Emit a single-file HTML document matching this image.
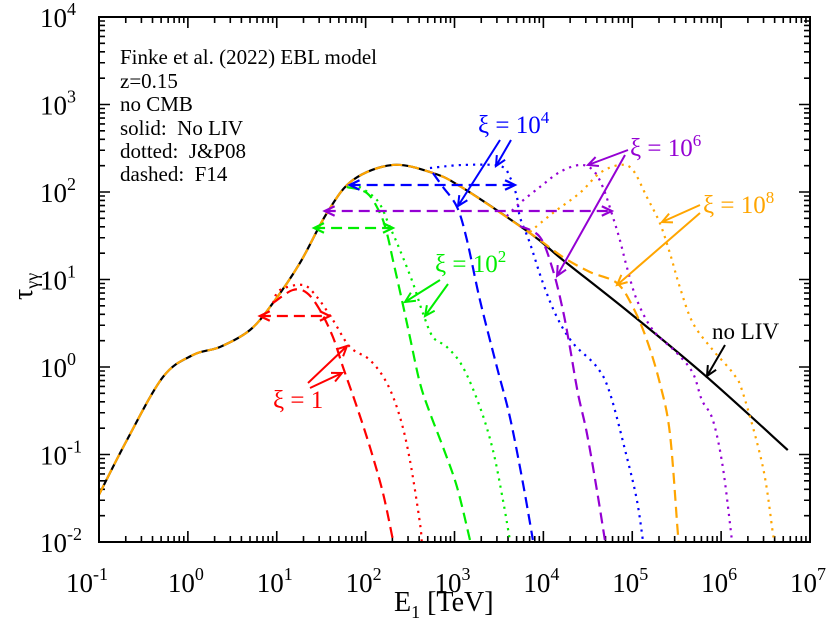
<!DOCTYPE html>
<html><head><meta charset="utf-8">
<style>
html,body{margin:0;padding:0;background:#fff;}
svg{display:block;font-family:"Liberation Serif","DejaVu Serif",serif;}
</style></head>
<body>
<svg id="chart" width="830" height="626" viewBox="0 0 830 626" xmlns="http://www.w3.org/2000/svg">
<defs>
<clipPath id="clip"><rect x="99" y="17" width="711" height="525"/></clipPath>
</defs>
<g id="ticks"></g>
<g id="curves" clip-path="url(#clip)"></g>
<g id="arrows"></g>
<rect x="99" y="17" width="711" height="525" fill="none" stroke="#000" stroke-width="2"/>
<g id="labels" font-size="27"></g>
<text x="394" y="611" font-size="28">E<tspan font-size="18" dy="7">1</tspan><tspan dy="-7"> [TeV]</tspan></text>
<text transform="translate(32,300) rotate(-90)" font-size="28">τ<tspan font-size="18" dy="6">γγ</tspan></text>
<g font-size="21">
<text x="120" y="64">Finke et al. (2022) EBL model</text>
<text x="120" y="88">z=0.15</text>
<text x="120" y="111">no CMB</text>
<text x="120" y="135" xml:space="preserve">solid:  No LIV</text>
<text x="120" y="158" xml:space="preserve">dotted:  J&amp;P08</text>
<text x="120" y="181" xml:space="preserve">dashed:  F14</text>
</g>
<g font-size="25">
<text x="273" y="408" fill="#ff0000">ξ = 1</text>
<text x="435" y="272" fill="#00ee00">ξ = 10<tspan font-size="17" dy="-10">2</tspan></text>
<text x="478" y="133" fill="#0000ff">ξ = 10<tspan font-size="17" dy="-10">4</tspan></text>
<text x="630" y="156" fill="#9400d3">ξ = 10<tspan font-size="17" dy="-10">6</tspan></text>
<text x="703" y="213" fill="#ffa500">ξ = 10<tspan font-size="17" dy="-10">8</tspan></text>
<text x="712" y="339" font-size="23" fill="#000">no LIV</text>
</g>
</svg>
<script>
// axis data
const xTickExps = [-1,0,1,2,3,4,5,6,7];
const yTickExps = [-2,-1,0,1,2,3,4];
// series data (log10 E [TeV], log10 tau)
const blackLogE = [-1,-0.685,-0.28,0.057,0.361,0.699,0.957,1.261,1.565,1.857,2.307,2.757,3.094,3.848,4.219,4.973,5.839,6.75];
const blackLogTau = [-1.46,-0.834,-0.114,0.137,0.229,0.423,0.731,1.189,1.76,2.137,2.309,2.217,2.046,1.531,1.223,0.617,-0.114,-0.949];
const redDashE = [0.957,1.182,1.34,1.486,1.632,1.745,1.902,2.048,2.195,2.307,2.33];
const redDashT = [0.731,0.88,0.846,0.651,0.343,0,-0.457,-0.914,-1.44,-1.977,-2.1];
const redDotE = [0.957,1.036,1.295,1.452,1.632,1.823,2.048,2.239,2.386,2.498,2.611,2.633];
const redDotT = [0.731,0.88,0.937,0.8,0.537,0.229,0.08,-0.183,-0.571,-1.063,-1.783,-2.03];
const greenDashE = [1.789,2.014,2.161,2.239,2.307,2.408,2.498,2.611,2.724,2.87,3.028,3.174];
const greenDashT = [2.057,1.989,1.76,1.531,1.223,0.766,0.343,-0.183,-0.526,-0.914,-1.371,-1.977];
const greenDotE = [1.857,2.127,2.273,2.386,2.532,2.644,2.757,2.914,3.094,3.286,3.432,3.545,3.623];
const greenDotT = [2.103,1.909,1.6,1.337,0.96,0.617,0.343,0.229,0,-0.457,-0.949,-1.52,-1.977];
const blueDashE = [2.757,2.87,3.028,3.14,3.286,3.477,3.623,3.77,3.882];
const blueDashT = [2.217,2.057,1.829,1.451,0.766,0,-0.571,-1.326,-1.977];
const blueDotE = [2.724,3.095,3.511,3.623,3.702,3.736,3.848,3.995,4.152,4.332,4.602,4.748,4.939,5.052,5.119];
const blueDotT = [2.274,2.309,2.297,2.171,1.943,1.714,1.417,0.96,0.571,0.274,0,-0.297,-1.029,-1.52,-1.977];
const purpleDashE = [3.736,3.961,4.107,4.219,4.298,4.388,4.489,4.602,4.692];
const purpleDashT = [1.611,1.486,1.109,0.651,0.229,-0.297,-0.754,-1.406,-1.977];
const purpleDotE = [3.589,3.736,3.961,4.186,4.41,4.557,4.669,4.782,4.861,4.939,5.052,5.232,5.502,5.682,5.783,5.907,6.019,6.121];
const purpleDotT = [1.726,1.874,2.057,2.229,2.309,2.251,2.057,1.714,1.451,1.143,0.766,0.423,0.16,-0.069,-0.377,-0.606,-1.143,-1.977];
const orangeDotE = [3.848,4.107,4.41,4.635,4.861,5.007,5.164,5.31,5.423,5.535,5.682,5.907,6.132,6.245,6.47,6.582,6.605];
const orangeDotT = [1.543,1.76,1.989,2.217,2.309,2.251,1.943,1.646,1.303,0.914,0.503,0.194,-0.069,-0.297,-1.143,-1.897,-2.03];
const orangeDashTailE = [4.219,4.523,4.827,5.007,5.164,5.31,5.423,5.513,5.53];
const orangeDashTailT = [1.257,1.086,0.96,0.686,0.309,-0.183,-0.754,-1.897,-2.03];
// horizontal range arrows: log10 tau level, log10 E start, end
const hArrowLevel = [0.583,1.589,2.08,1.783];
const hArrowFrom = [0.81,1.42,1.82,1.54];
const hArrowTo = [1.597,2.307,3.68,4.769];
const hArrowColor = ['#ff0000','#00ee00','#0000ff','#9400d3'];

const NS='http://www.w3.org/2000/svg';
const X0=99, X1=810, Y0=542, Y1=17;
function xs(l){return X0+(l+1)/8*(X1-X0);}
function ys(l){return Y0-(l+2)/6*(Y0-Y1);}
function mk(tag,attrs,parent){const e=document.createElementNS(NS,tag);for(const k in attrs)e.setAttribute(k,attrs[k]);parent.appendChild(e);return e;}

const ticks=document.getElementById('ticks');
let d='';
for(let e=-1;e<7;e++){for(let m=1;m<10;m++){const l=e+Math.log10(m);const x=xs(l);const len=m===1?11:6;
 d+=`M${x},${Y0}v${-len}M${x},${Y1}v${len}`;}}
d+=`M${X1},${Y0}v-11M${X1},${Y1}v11`;
for(let e=-2;e<4;e++){for(let m=1;m<10;m++){const l=e+Math.log10(m);const y=ys(l);const len=m===1?11:6;
 d+=`M${X0},${y}h${len}M${X1},${y}h${-len}`;}}
d+=`M${X0},${Y1}h11M${X1},${Y1}h-11`;
const tp=mk('path',{d:d,stroke:'#000','stroke-width':1.6,fill:'none'},ticks);



const labels=document.getElementById('labels');
xTickExps.forEach(e=>{const t=mk('text',{x:xs(e)-(e<0?12:2),y:592,'text-anchor':'middle'},labels);
 
 
 t.innerHTML='10<tspan font-size="18" dy="-12">'+(e<0?'-':'')+Math.abs(e)+'</tspan>';});
yTickExps.forEach(e=>{const t=mk('text',{x:40,y:ys(e)+10},labels);
 
 
 t.innerHTML='10<tspan font-size="18" dy="-12">'+(e<0?'-':'')+Math.abs(e)+'</tspan>';});

function pathFor(E,T){const p=E.map((e,i)=>[xs(e),ys(T[i])]);
 let s=`M${p[0][0]},${p[0][1]}`;
 for(let i=0;i<p.length-1;i++){const p0=p[Math.max(0,i-1)],p1=p[i],p2=p[i+1],p3=p[Math.min(p.length-1,i+2)];
  const c1=[p1[0]+(p2[0]-p0[0])/6,p1[1]+(p2[1]-p0[1])/6],c2=[p2[0]-(p3[0]-p1[0])/6,p2[1]-(p3[1]-p1[1])/6];
  s+=`C${c1[0]},${c1[1]} ${c2[0]},${c2[1]} ${p2[0]},${p2[1]}`;}
 return s;}
const curves=document.getElementById('curves');
function curve(E,T,color,dash,name,w){const el=mk('path',{d:pathFor(E,T),stroke:color,'stroke-width':w||2.2,fill:'none','stroke-dasharray':dash},curves);
 
 }
const DASH='11,6', DOT='2.2,5';
curve(blackLogE,blackLogTau,'#000','none','no-liv-solid');
const cut=blackLogE.findIndex(v=>v>=3.848);
curve(blackLogE.slice(0,cut+1).concat(orangeDashTailE),blackLogTau.slice(0,cut+1).concat(orangeDashTailT),'#ffa500',DASH,'xi-1e8-f14-dashed');
curve(redDashE,redDashT,'#ff0000',DASH,'xi-1-f14-dashed');
curve(redDotE,redDotT,'#ff0000',DOT,'xi-1-jp08-dotted');
curve(greenDashE,greenDashT,'#00ee00',DASH,'xi-1e2-f14-dashed');
curve(greenDotE,greenDotT,'#00ee00',DOT,'xi-1e2-jp08-dotted');
curve(blueDashE,blueDashT,'#0000ff',DASH,'xi-1e4-f14-dashed');
curve(blueDotE,blueDotT,'#0000ff',DOT,'xi-1e4-jp08-dotted');
curve(purpleDashE,purpleDashT,'#9400d3',DASH,'xi-1e6-f14-dashed');
curve(purpleDotE,purpleDotT,'#9400d3',DOT,'xi-1e6-jp08-dotted');
curve(orangeDotE,orangeDotT,'#ffa500',DOT,'xi-1e8-jp08-dotted');

const arrows=document.getElementById('arrows');
function head(x1,y1,x2,y2,color){const a=Math.atan2(y2-y1,x2-x1),L=11,s=0.45;
 return `M${x2-L*Math.cos(a-s)},${y2-L*Math.sin(a-s)}L${x2},${y2}L${x2-L*Math.cos(a+s)},${y2-L*Math.sin(a+s)}`;}
hArrowLevel.forEach((lv,i)=>{const y=ys(lv),xa=xs(hArrowFrom[i]),xb=xs(hArrowTo[i]);
 const ln=mk('path',{d:`M${xa},${y}H${xb}`,stroke:hArrowColor[i],'stroke-width':2.2,fill:'none','stroke-dasharray':DASH},arrows);
 
 
 const hd=mk('path',{d:head(xb,y,xa,y)+head(xa,y,xb,y),stroke:hArrowColor[i],'stroke-width':2.2,fill:'none'},arrows);
 
 });
// label pointer arrows (pixel annotations)
const pointers=[
 [308,383,347,346,'#ff0000'],[310,388,342,373,'#ff0000'],
 [440,280,405,302,'#00ee00'],[448,284,425,316,'#00ee00'],
 [500,140,458,206,'#0000ff'],[511,140,496,166,'#0000ff'],
 [628,150,588,165,'#9400d3'],[625,155,557,276,'#9400d3'],
 [700,205,662,222,'#ffa500'],[700,213,617,285,'#ffa500'],
 [725,345,707,376,'#000']];
pointers.forEach(p=>{const el=mk('path',{d:`M${p[0]},${p[1]}L${p[2]},${p[3]}`+head(p[0],p[1],p[2],p[3]),stroke:p[4],'stroke-width':2,fill:'none'},arrows);
 
 });
</script>
</body></html>
